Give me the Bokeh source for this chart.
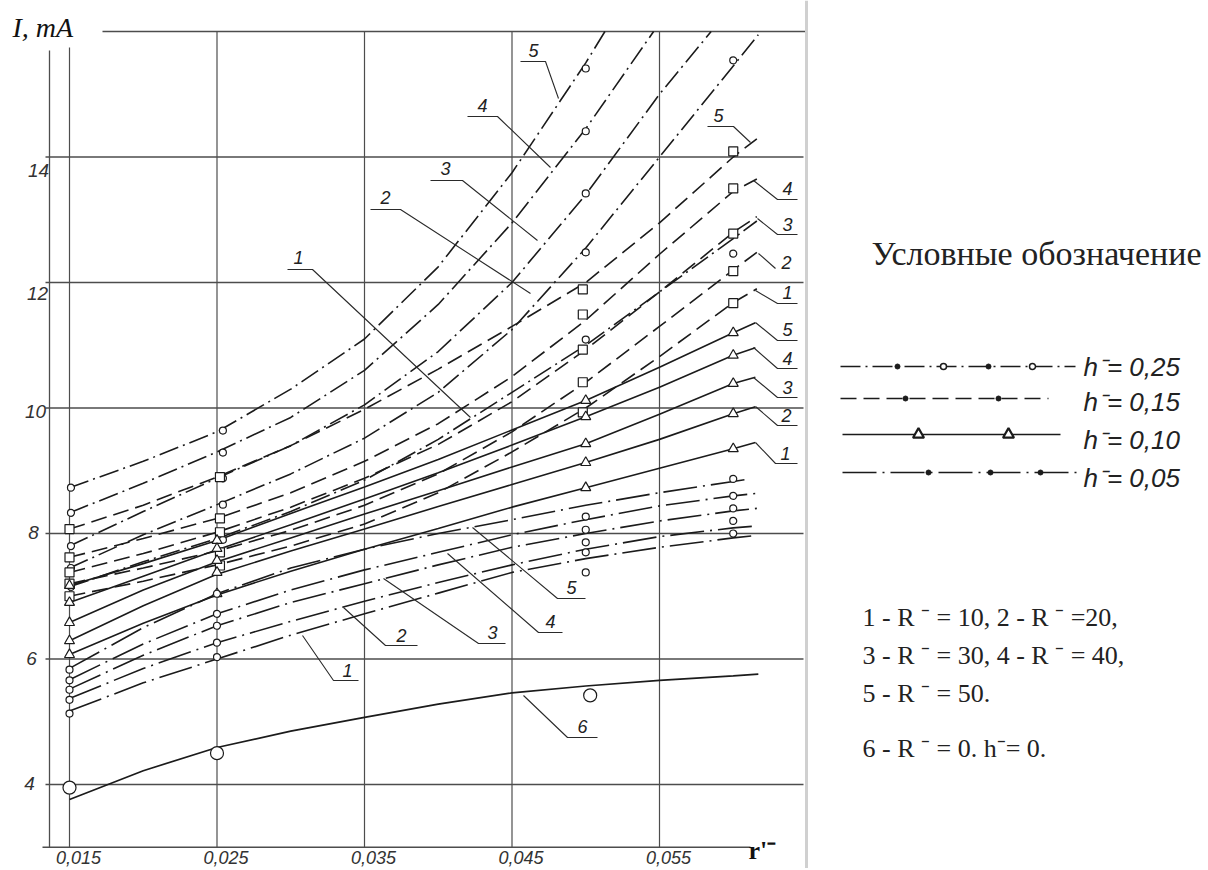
from bokeh.plotting import figure
from bokeh.layouts import row
from bokeh.models import Range1d
from bokeh.core.properties import value
from bokeh.embed import file_html
from bokeh.resources import INLINE

# ---------------- data ----------------
X_STD = [0.015, 0.020, 0.025, 0.030, 0.035, 0.040, 0.045, 0.050, 0.055, 0.060]
CURVE_NUMBERS = ["5", "4", "3", "2", "1"]          # R- = 50, 40, 30, 20, 10

# h- = 0.25 (dash-dot, circles) - these leave the top of the chart
H25_X = [
    [0.015, 0.020, 0.025, 0.030, 0.035, 0.040, 0.045, 0.050, 0.0513],
    [0.015, 0.020, 0.025, 0.030, 0.035, 0.040, 0.045, 0.050, 0.0546],
    [0.015, 0.020, 0.025, 0.030, 0.035, 0.040, 0.045, 0.050, 0.055, 0.0585],
    [0.015, 0.020, 0.025, 0.030, 0.035, 0.040, 0.045, 0.050, 0.055, 0.060, 0.0617],
    [0.015, 0.020, 0.025, 0.030, 0.035, 0.040, 0.045, 0.050, 0.055, 0.060, 0.0616],
]
H25_Y = [
    [8.73, 9.15, 9.62, 10.30, 11.10, 12.25, 13.75, 15.50, 16.00],
    [8.33, 8.80, 9.30, 9.85, 10.60, 11.65, 12.95, 14.45, 16.00],
    [7.80, 8.35, 8.88, 9.40, 10.05, 10.90, 12.00, 13.40, 15.00, 16.00],
    [7.45, 7.98, 8.46, 8.95, 9.52, 10.25, 11.25, 12.55, 14.00, 15.45, 15.95],
    [7.15, 7.55, 7.92, 8.35, 8.85, 9.50, 10.25, 11.00, 11.85, 12.70, 12.98],
]
# h- = 0.15 (dashed, squares)
H15_END = [0.0616, 0.0616, 0.0616, 0.0616, 0.0616]
H15_Y = [
    [8.07, 8.45, 8.90, 9.40, 9.98, 10.62, 11.30, 12.00, 12.95, 14.00, 14.29],
    [7.62, 7.92, 8.24, 8.65, 9.15, 9.75, 10.50, 11.40, 12.45, 13.45, 13.65],
    [7.38, 7.68, 8.02, 8.42, 8.88, 9.42, 10.10, 10.93, 11.85, 12.80, 13.05],
    [7.20, 7.45, 7.72, 8.05, 8.45, 8.95, 9.62, 10.41, 11.30, 12.20, 12.48],
    [7.00, 7.24, 7.50, 7.80, 8.15, 8.65, 9.30, 10.00, 10.82, 11.68, 11.90],
]
# h- = 0.10 (solid, triangles)
H10_END = [0.0615, 0.0615, 0.0615, 0.0615, 0.0615]
H10_Y = [
    [7.17, 7.52, 7.89, 8.32, 8.74, 9.18, 9.65, 10.12, 10.65, 11.20, 11.36],
    [6.90, 7.32, 7.74, 8.14, 8.55, 8.97, 9.41, 9.86, 10.33, 10.84, 10.96],
    [6.58, 7.10, 7.55, 7.93, 8.31, 8.68, 9.06, 9.43, 9.90, 10.39, 10.49],
    [6.29, 6.85, 7.35, 7.72, 8.07, 8.43, 8.78, 9.13, 9.50, 9.91, 10.02],
    [6.07, 6.57, 7.02, 7.40, 7.75, 8.08, 8.42, 8.73, 9.04, 9.35, 9.45],
]
# h- = 0.05 (long dash-dot, circles)
H05_END = [0.0611, 0.0616, 0.0616, 0.0616, 0.0616]
H05_Y = [
    [5.85, 6.50, 7.04, 7.45, 7.75, 8.00, 8.22, 8.45, 8.65, 8.83, 8.87],
    [5.67, 6.24, 6.72, 7.10, 7.42, 7.70, 7.98, 8.22, 8.44, 8.60, 8.64],
    [5.52, 6.06, 6.53, 6.90, 7.20, 7.50, 7.78, 8.00, 8.20, 8.36, 8.40],
    [5.37, 5.85, 6.26, 6.60, 6.92, 7.22, 7.50, 7.75, 7.95, 8.09, 8.12],
    [5.17, 5.62, 6.00, 6.38, 6.72, 7.05, 7.38, 7.60, 7.78, 7.93, 7.97],
]
# curve 6: R- = 0, h- = 0
C6_X = [0.015, 0.020, 0.025, 0.030, 0.035, 0.040, 0.045, 0.050, 0.055, 0.060, 0.0617]
C6_Y = [3.76, 4.22, 4.59, 4.85, 5.07, 5.28, 5.46, 5.57, 5.66, 5.73, 5.76]

# measured points (markers)
H25_MX = [0.0151, 0.0254, 0.0500, 0.0600]
H25_MY = [[8.73, 9.64, 15.41, None], [8.33, 9.29, 14.41, None], [7.80, 8.88, 13.42, None],
          [7.45, 8.46, 12.48, 15.54], [7.15, 7.90, 11.09, 12.46]]
H15_MX = [0.0150, 0.0252, 0.0498, 0.0600]
H15_MY = [[8.07, 8.90, 11.89, 14.09], [7.62, 8.24, 11.49, 13.50], [7.38, 8.02, 10.93, 12.78],
          [7.20, 7.70, 10.41, 12.18], [7.00, 7.49, 9.93, 11.67]]
H10_MX = [0.0150, 0.0250, 0.0500, 0.0600]
H10_MY = [[7.17, 7.89, 10.12, 11.20], [6.90, 7.76, 9.86, 10.84], [6.58, 7.57, 9.43, 10.39],
          [6.29, 7.38, 9.13, 9.91], [6.07, 7.04, 8.73, 9.35]]
H05_MX = [0.0150, 0.0250, 0.0500, 0.0600]
H05_MY = [[5.83, 7.04, 8.27, 8.87], [5.66, 6.72, 8.06, 8.60], [5.51, 6.53, 7.86, 8.40],
          [5.35, 6.26, 7.70, 8.20], [5.13, 6.03, 7.38, 8.00]]
C6_MX = [0.015, 0.025, 0.0503]
C6_MY = [3.95, 4.50, 5.42]

X_TICKS = [0.015, 0.025, 0.035, 0.045, 0.055]
X_TICK_LABELS = ["0,015", "0,025", "0,035", "0,045", "0,055"]
Y_TICKS = [4, 6, 8, 10, 12, 14]
Y_TICK_LABELS = ["4", "6", "8", "10", "12", "14"]
Y_TOP = 16
Y_BOTTOM = 3.0

LEGEND_H = ["0,25", "0,15", "0,10", "0,05"]
NOTES = ["1 - R \u207b = 10,  2 -  R \u207b =20,",
         "3 - R \u207b = 30,  4 - R \u207b = 40,",
         "5 - R \u207b = 50.",
         "6 - R \u207b = 0.  h\u207b= 0."]

# ---------------- layout (page pixels) ----------------
PX_X = 14750.0   # px per unit of r'
PX_Y = 62.75     # px per mA
def gx(px):
    return 0.015 + (px - 69) / PX_X
def gy(py):
    return 16.0 - (py - 31) / PX_Y

W1, W2, H = 810, 396, 868
INK = "#1b1b1b"
GRIDC = "#4d4d4d"
SANS = value("Liberation Sans")
SERIF = value("Liberation Serif")

p = figure(width=W1, height=H, x_range=Range1d(gx(0), gx(W1)),
           y_range=Range1d(gy(H), gy(0)), output_backend="svg",
           toolbar_location=None, min_border=0)
p.xaxis.visible = False
p.yaxis.visible = False
p.xgrid.visible = False
p.ygrid.visible = False
p.outline_line_color = None
p.background_fill_color = "white"
p.border_fill_color = "white"

# grid
for t in Y_TICKS:
    p.line([gx(45), gx(803)], [t, t], line_color=GRIDC, line_width=1.3)
p.line([gx(102), gx(805)], [Y_TOP, Y_TOP], line_color=GRIDC, line_width=1.3)
for i, t in enumerate(X_TICKS):
    top = gy(47) if i == 0 else Y_TOP
    p.line([t, t], [Y_BOTTOM, top], line_color=GRIDC, line_width=1.2)
p.line([gx(49), gx(49)], [Y_BOTTOM, gy(50)], line_color=GRIDC, line_width=1.3)
p.line([gx(42), gx(750)], [Y_BOTTOM, Y_BOTTOM], line_color=GRIDC, line_width=1.3)
p.line([gx(806), gx(806)], [gy(H), gy(0)], line_color="#d0d0d0", line_width=3)

# tick labels
ylab_dx = [29, 31, 33, 35, 37, 38]
ylab_dy = [-1, -1, -1, 3, 11, 13]
p.text(x=[gx(v) for v in ylab_dx],
       y=[t - d / PX_Y for t, d in zip(Y_TICKS, ylab_dy)],
       text=Y_TICK_LABELS, text_font=SANS, text_font_style="italic",
       text_font_size="19px", text_align="center", text_baseline="middle",
       text_color="#333333")
p.text(x=[t + 9 / PX_X for t in X_TICKS], y=[gy(857)] * len(X_TICKS), text=X_TICK_LABELS,
       text_font=SANS, text_font_style="italic", text_font_size="18px",
       text_align="center", text_baseline="middle", text_color="#333333")
p.text(x=[gx(12)], y=[gy(27)], text=["I, mA"], text_font=SERIF, text_font_style="italic",
       text_font_size="28px", text_align="left", text_baseline="middle", text_color="#111111")
p.text(x=[gx(748)], y=[gy(850)], text=["r'\u207b"], text_font=SERIF, text_font_style="bold",
       text_font_size="26px", text_align="left", text_baseline="middle", text_color="#111111")

DASH25 = "20 5 2 5"
DASH15 = "16 7"
DASH05 = "34 6 2 6"

# curves
for xs, ys in zip(H25_X, H25_Y):
    p.line(xs, ys, line_color=INK, line_width=1.6, line_dash=DASH25)
for end, ys in zip(H15_END, H15_Y):
    p.line(X_STD + [end], ys, line_color=INK, line_width=1.6, line_dash=DASH15)
for end, ys in zip(H10_END, H10_Y):
    p.line(X_STD + [end], ys, line_color=INK, line_width=1.6)
for end, ys in zip(H05_END, H05_Y):
    p.line(X_STD + [end], ys, line_color=INK, line_width=1.6, line_dash=DASH05)
p.line(C6_X, C6_Y, line_color=INK, line_width=1.7)

def pts(mx, my):
    xs, ys = [], []
    for row_ in my:
        for xv, yv in zip(mx, row_):
            if yv is not None:
                xs.append(xv)
                ys.append(yv)
    return xs, ys

for (mx, my), mk, sz in [((H25_MX, H25_MY), "circle", 7), ((H15_MX, H15_MY), "square", 9),
                         ((H10_MX, H10_MY), "triangle", 10), ((H05_MX, H05_MY), "circle", 7)]:
    xs, ys = pts(mx, my)
    p.scatter(xs, ys, marker=mk, size=sz, fill_color="white", line_color=INK, line_width=1.2)
p.scatter(C6_MX, C6_MY, marker="circle", size=13, fill_color="white", line_color=INK, line_width=1.2)

# leaders and curve numbers (page pixels)
LEADERS = [
    ("5", (533, 50), [(520, 61), (545, 61), (558, 98)]),
    ("4", (482, 105), [(467, 116), (497, 116), (550, 167)]),
    ("3", (445, 168), [(430, 180), (462, 180), (537, 240)]),
    ("2", (385, 197), [(370, 209), (400, 209), (530, 293)]),
    ("1", (298, 257), [(287, 269), (312, 269), (470, 417)]),
    ("5", (718, 115), [(707, 126), (733, 126), (750, 142)]),
    ("4", (787, 188), [(797, 199), (777, 199), (753, 180)]),
    ("3", (787, 224), [(797, 234), (777, 234), (757, 218)]),
    ("2", (786, 262), [(775, 268), (758, 253)]),
    ("1", (787, 292), [(797, 303), (777, 303), (755, 290)]),
    ("5", (787, 329), [(797, 340), (777, 340), (755, 322)]),
    ("4", (787, 358), [(797, 368), (777, 368), (753, 347)]),
    ("3", (787, 387), [(797, 397), (777, 397), (753, 377)]),
    ("2", (786, 415), [(797, 425), (777, 425), (755, 406)]),
    ("1", (785, 453), [(797, 463), (775, 463), (755, 442)]),
    ("1", (347, 670), [(358, 680), (333, 680), (302, 635)]),
    ("2", (401, 635), [(417, 645), (385, 645), (343, 607)]),
    ("3", (492, 632), [(505, 643), (478, 643), (383, 578)]),
    ("4", (550, 621), [(562, 632), (538, 632), (447, 553)]),
    ("5", (571, 587), [(585, 598), (557, 598), (472, 527)]),
    ("6", (582, 726), [(597, 737), (567, 737), (523, 695)]),
]
for lab, (lx, ly), path in LEADERS:
    p.line([gx(a) for a, b in path], [gy(b) for a, b in path], line_color="#2a2a2a", line_width=1.1)
p.text(x=[gx(l[1][0]) for l in LEADERS], y=[gy(l[1][1]) for l in LEADERS],
       text=[l[0] for l in LEADERS], text_font=SANS, text_font_style="italic",
       text_font_size="18px", text_align="center", text_baseline="middle", text_color="#222222")

# ---------------- legend panel ----------------
q = figure(width=W2, height=H, x_range=Range1d(W1, W1 + W2), y_range=Range1d(H, 0),
           output_backend="svg", toolbar_location=None, min_border=0)
q.xaxis.visible = False
q.yaxis.visible = False
q.xgrid.visible = False
q.ygrid.visible = False
q.outline_line_color = None
q.background_fill_color = "white"
q.border_fill_color = "white"

q.text(x=[1036], y=[253], text=["Условные обозначение"], text_font=SERIF, text_font_size="34px",
       text_align="center", text_baseline="middle", text_color="#222222")

row_line_y = [366, 398, 434, 472]
row_text_y = [366, 401, 439, 477]
row_x0 = [840, 840, 842, 842]
row_x1 = [1075, 1048, 1060, 1077]
row_dash = [DASH25, DASH15, "solid", DASH05]
for y0, a, b, d in zip(row_line_y, row_x0, row_x1, row_dash):
    q.line([a, b], [y0, y0], line_color=INK, line_width=1.6, line_dash=d)
q.scatter([897, 988], [366, 366], marker="circle", size=5, fill_color=INK, line_color=INK)
q.scatter([943, 1032], [366, 366], marker="circle", size=6, fill_color="white", line_color=INK, line_width=1.5)
q.scatter([905, 998], [398, 398], marker="circle", size=5, fill_color=INK, line_color=INK)
q.scatter([918, 1008], [434, 434], marker="triangle", size=11, fill_color="white", line_color=INK, line_width=2.2)
q.scatter([928, 990, 1040], [472, 472, 472], marker="circle", size=5, fill_color=INK, line_color=INK)
q.text(x=[1083] * 4, y=row_text_y, text=["h\u207b= " + v for v in LEGEND_H], text_font=SANS,
       text_font_style="italic", text_font_size="26px", text_align="left", text_baseline="middle",
       text_color="#222222")

q.text(x=[862] * 4, y=[617, 655, 693, 748], text=NOTES, text_font=SERIF,
       text_font_size="26px", text_align="left", text_baseline="middle", text_color="#222222")

layout = row(p, q)
open("out.html", "w").write(file_html(layout, INLINE))
